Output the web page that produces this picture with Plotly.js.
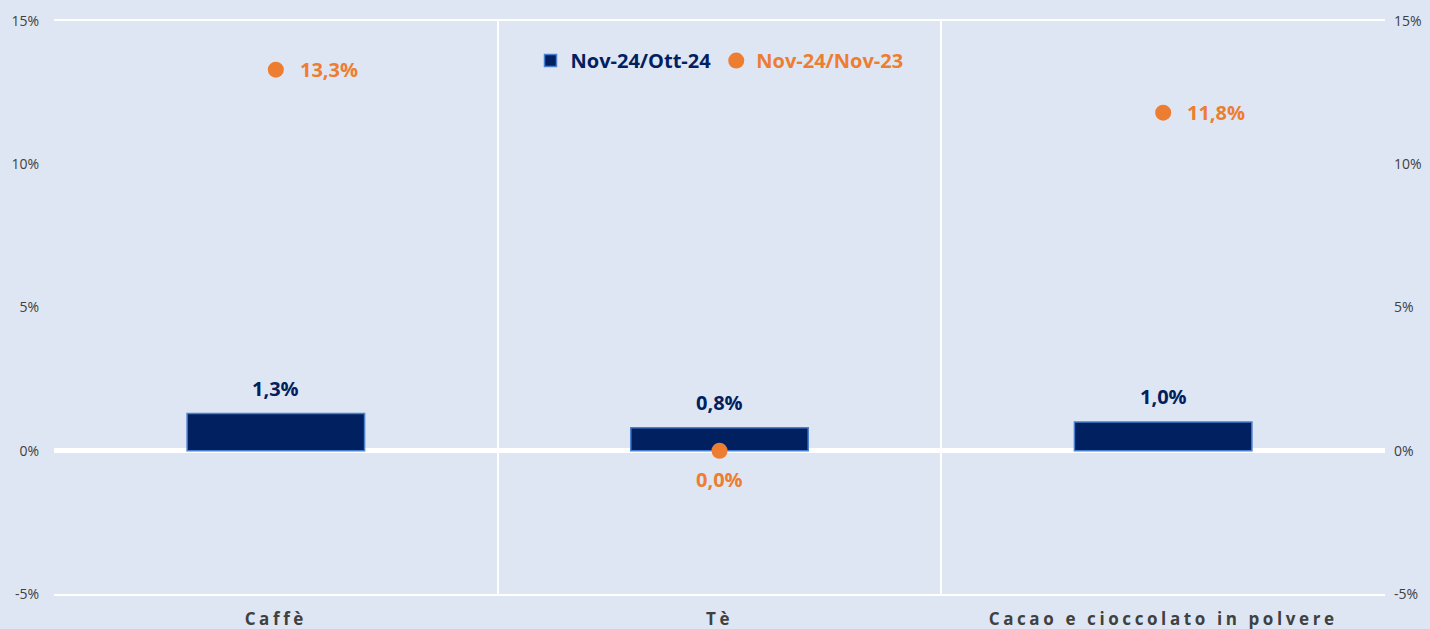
<!DOCTYPE html>
<html>
<head>
<meta charset="utf-8">
<script src="https://cdn.plot.ly/plotly-3.0.1.min.js"></script>
<style>
html,body{margin:0;padding:0;background:#DFE6F3;}
#chart{width:1430px;height:629px;}
.xtick text{letter-spacing:3.6px;}
</style>
</head>
<body>
<div id="chart"></div>
<script>
const categories = ['Caffè', 'Tè', 'Cacao e cioccolato in polvere'];
const monthlyChange = [1.3, 0.8, 1.0];      // Nov-24/Ott-24
const yearlyChange = [13.3, 0.0, 11.8];     // Nov-24/Nov-23
const tickValues = [-5, 0, 5, 10, 15];
const tickLabels = ['-5%', '0%', '5%', '10%', '15%'];

const navy = '#002060';
const orange = '#ED7D31';
const bg = '#DFE6F3';
const fmt = v => v.toFixed(1).replace('.', ',') + '%';

const barTrace = {
  type: 'bar',
  x: categories,
  y: monthlyChange,
  name: '<span style="color:' + navy + '">Nov-24/Ott-24</span>',
  marker: {color: navy, line: {color: '#4A7FD0', width: 1.5}},
  width: 0.4,
  hoverinfo: 'skip'
};

const dotTrace = {
  type: 'scatter',
  mode: 'markers',
  x: categories,
  y: yearlyChange,
  yaxis: 'y2',
  name: '<span style="color:' + orange + '">Nov-24/Nov-23</span>',
  marker: {color: orange, size: 16},
  cliponaxis: false,
  hoverinfo: 'skip'
};

const labelFont = c => ({family: 'Open Sans', size: 20, color: c, weight: 'bold'});

const barLabels = categories.map((c, i) => ({
  x: c, y: monthlyChange[i], xref: 'x', yref: 'y',
  text: fmt(monthlyChange[i]), showarrow: false,
  yanchor: 'bottom', yshift: 10, font: labelFont(navy)
}));

const dotLabels = categories.map((c, i) => {
  const below = yearlyChange[i] === 0;
  return {
    x: c, y: yearlyChange[i], xref: 'x', yref: 'y',
    text: fmt(yearlyChange[i]), showarrow: false,
    xanchor: below ? 'center' : 'left',
    yanchor: 'middle',
    xshift: below ? 0 : 22,
    yshift: below ? -29 : 0,
    font: labelFont(orange)
  };
});

const layout = {
  width: 1430,
  height: 629,
  paper_bgcolor: bg,
  plot_bgcolor: bg,
  separators: ',.',
  margin: {l: 54, r: 45, t: 21, b: 35},
  showlegend: true,
  annotations: barLabels.concat(dotLabels),
  legend: {
    orientation: 'h',
    x: 0.358, y: 0.965, xanchor: 'left', yanchor: 'top',
    bgcolor: 'rgba(0,0,0,0)',
    font: {family: 'Open Sans', size: 20, weight: 'bold'},
    itemwidth: 30,
    tracegroupgap: 0
  },
  xaxis: {
    type: 'category',
    tickson: 'boundaries',
    showgrid: true,
    gridcolor: '#FFFFFF',
    gridwidth: 2,
    showline: true,
    mirror: true,
    linecolor: '#FFFFFF',
    linewidth: 2,
    ticks: '',
    tickfont: {family: 'Open Sans', size: 17, color: '#404040', weight: 'bold'},
    ticklabelstandoff: 9
  },
  yaxis: {
    range: [-5, 15],
    tickmode: 'array',
    tickvals: tickValues,
    ticktext: tickLabels,
    showgrid: false,
    zeroline: true,
    zerolinecolor: '#FFFFFF',
    zerolinewidth: 5,
    showline: false,
    ticks: '',
    layer: 'above traces',
    tickfont: {family: 'Open Sans', size: 14, color: '#404040'},
    ticklabelstandoff: 14
  },
  yaxis2: {
    range: [-5, 15],
    tickmode: 'array',
    tickvals: tickValues,
    ticktext: tickLabels,
    overlaying: 'y',
    side: 'right',
    showgrid: false,
    zeroline: false,
    showline: false,
    ticks: '',
    tickfont: {family: 'Open Sans', size: 14, color: '#404040'},
    ticklabelstandoff: 8
  }
};

Plotly.newPlot('chart', [barTrace, dotTrace], layout, {displayModeBar: false, staticPlot: true});
</script>
</body>
</html>
